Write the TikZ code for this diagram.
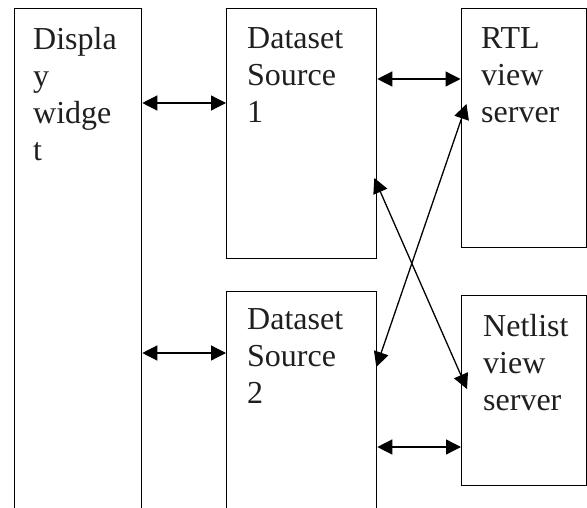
\documentclass[tikz,border=0pt]{standalone}
\usepackage{fontspec}
\setmainfont{Liberation Serif}
\usetikzlibrary{arrows.meta}
\begin{document}
\begin{tikzpicture}[x=1pt,y=-1pt,
  box/.style={draw, line width=1.3pt, inner sep=0pt, anchor=north west},
  lbl/.style={inner sep=0pt, anchor=north west, align=left,
              font=\fontsize{32}{37}\selectfont, text=black!88},
  tip/.tip={Triangle[length=15pt,width=15pt]},
  link/.style={line width=1.3pt, tip-tip},
  feed/.style={line width=1.3pt, -tip}]
\useasboundingbox (0,0) rectangle (587,508);
\clip (0,0) rectangle (587,508);

% boxes (the tall ones run off the lower edge)
\node[box, minimum width=127pt, minimum height=560pt] (disp) at (14,8) {};
\node[box, minimum width=150pt, minimum height=250pt] (ds1) at (226,8) {};
\node[box, minimum width=150pt, minimum height=260pt] (ds2) at (226,291) {};
\node[box, minimum width=125pt, minimum height=239pt] (rtl) at (460.5,8) {};
\node[box, minimum width=125pt, minimum height=190pt] (net) at (461,295) {};

% labels
\node[lbl] (tdisp) at (33,27.3) {Displa\\y\\widge\\t};
\node[lbl] (tds1) at (247,27.3) {Dataset\\Source\\1};
\node[lbl] (trtl) at (481,27.5) {RTL\\view\\server};
\node[lbl] (tds2) at (247,308.5) {Dataset\\Source\\2};
\node[lbl] (tnet) at (483,314.3) {Netlist\\view\\server};

% horizontal links
\draw[link] ([yshift=-95pt]disp.north east) -- ([yshift=-95pt]ds1.north west);
\draw[link] ([yshift=-71pt]ds1.north east) -- ([yshift=-71pt]rtl.north west);
\draw[link] ([yshift=-345pt]disp.north east) -- ([yshift=-62pt]ds2.north west);
\draw[link] ([yshift=-156pt]ds2.north east) -- ([yshift=-152pt]net.north west);

% crossing links
\draw[link] ([xshift=-1pt,yshift=-76pt]ds2.north east) -- ([xshift=6pt,yshift=-96pt]rtl.north west);
\draw[link] ([xshift=-3pt,yshift=-170pt]ds1.north east) -- ([xshift=6pt,yshift=-94pt]net.north west);
\end{tikzpicture}
\end{document}
